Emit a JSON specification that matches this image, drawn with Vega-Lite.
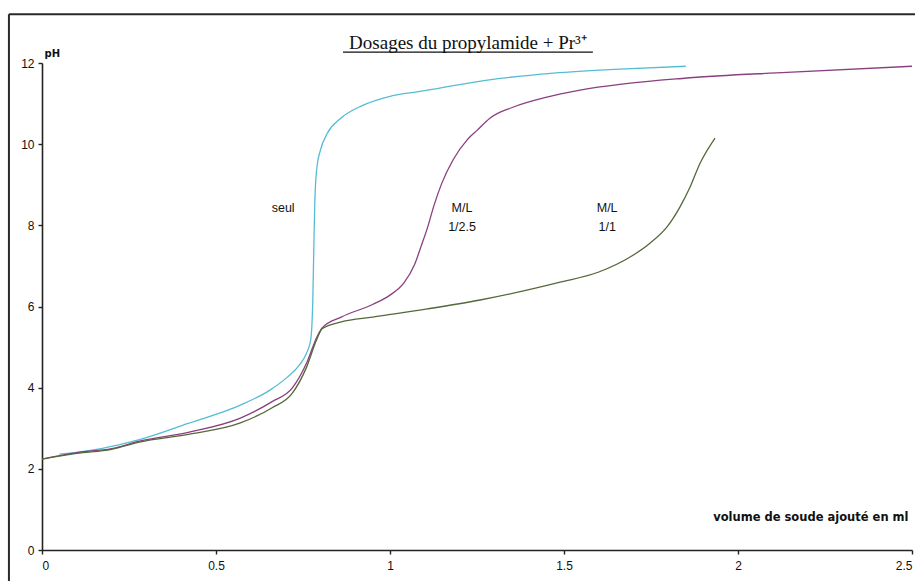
{
  "$schema": "https://vega.github.io/schema/vega-lite/v6.json",
  "width": 870,
  "height": 487,
  "autosize": "none",
  "padding": {"left": 42, "top": 63, "right": 3, "bottom": 31},
  "background": "white",
  "config": {"view": {"stroke": null}, "font": "Liberation Sans"},
  "datasets": {
    "curves": [
      {"serie": "seul", "v": 0.05, "ph": 2.36},
      {"serie": "seul", "v": 0.17, "ph": 2.5},
      {"serie": "seul", "v": 0.28, "ph": 2.72},
      {"serie": "seul", "v": 0.42, "ph": 3.12},
      {"serie": "seul", "v": 0.57, "ph": 3.57},
      {"serie": "seul", "v": 0.655, "ph": 3.94},
      {"serie": "seul", "v": 0.705, "ph": 4.26},
      {"serie": "seul", "v": 0.74, "ph": 4.56},
      {"serie": "seul", "v": 0.76, "ph": 4.85},
      {"serie": "seul", "v": 0.772, "ph": 5.17},
      {"serie": "seul", "v": 0.778, "ph": 6.1},
      {"serie": "seul", "v": 0.781, "ph": 7.4},
      {"serie": "seul", "v": 0.784, "ph": 8.6},
      {"serie": "seul", "v": 0.79, "ph": 9.43},
      {"serie": "seul", "v": 0.8, "ph": 9.85},
      {"serie": "seul", "v": 0.82, "ph": 10.27},
      {"serie": "seul", "v": 0.856, "ph": 10.62},
      {"serie": "seul", "v": 0.92, "ph": 10.95},
      {"serie": "seul", "v": 1.0, "ph": 11.18},
      {"serie": "seul", "v": 1.086, "ph": 11.3},
      {"serie": "seul", "v": 1.28, "ph": 11.58},
      {"serie": "seul", "v": 1.47, "ph": 11.75},
      {"serie": "seul", "v": 1.66, "ph": 11.85},
      {"serie": "seul", "v": 1.85, "ph": 11.92},
      {"serie": "M/L 1/2.5", "v": 0, "ph": 2.24},
      {"serie": "M/L 1/2.5", "v": 0.1, "ph": 2.4},
      {"serie": "M/L 1/2.5", "v": 0.2, "ph": 2.5},
      {"serie": "M/L 1/2.5", "v": 0.28, "ph": 2.68},
      {"serie": "M/L 1/2.5", "v": 0.42, "ph": 2.9},
      {"serie": "M/L 1/2.5", "v": 0.57, "ph": 3.25},
      {"serie": "M/L 1/2.5", "v": 0.66, "ph": 3.65},
      {"serie": "M/L 1/2.5", "v": 0.72, "ph": 4.0},
      {"serie": "M/L 1/2.5", "v": 0.76, "ph": 4.6},
      {"serie": "M/L 1/2.5", "v": 0.79, "ph": 5.25},
      {"serie": "M/L 1/2.5", "v": 0.805, "ph": 5.47},
      {"serie": "M/L 1/2.5", "v": 0.86, "ph": 5.74},
      {"serie": "M/L 1/2.5", "v": 0.95, "ph": 6.05},
      {"serie": "M/L 1/2.5", "v": 1.0, "ph": 6.28},
      {"serie": "M/L 1/2.5", "v": 1.04, "ph": 6.58},
      {"serie": "M/L 1/2.5", "v": 1.07, "ph": 7.02},
      {"serie": "M/L 1/2.5", "v": 1.09, "ph": 7.5},
      {"serie": "M/L 1/2.5", "v": 1.108, "ph": 7.95},
      {"serie": "M/L 1/2.5", "v": 1.126, "ph": 8.48},
      {"serie": "M/L 1/2.5", "v": 1.149, "ph": 9.04},
      {"serie": "M/L 1/2.5", "v": 1.181, "ph": 9.61},
      {"serie": "M/L 1/2.5", "v": 1.221, "ph": 10.1},
      {"serie": "M/L 1/2.5", "v": 1.25, "ph": 10.34},
      {"serie": "M/L 1/2.5", "v": 1.287, "ph": 10.64},
      {"serie": "M/L 1/2.5", "v": 1.353, "ph": 10.91},
      {"serie": "M/L 1/2.5", "v": 1.451, "ph": 11.16},
      {"serie": "M/L 1/2.5", "v": 1.546, "ph": 11.33},
      {"serie": "M/L 1/2.5", "v": 1.853, "ph": 11.63},
      {"serie": "M/L 1/2.5", "v": 2.141, "ph": 11.77},
      {"serie": "M/L 1/2.5", "v": 2.5, "ph": 11.92},
      {"serie": "M/L 1/1", "v": 0, "ph": 2.24},
      {"serie": "M/L 1/1", "v": 0.1, "ph": 2.38},
      {"serie": "M/L 1/1", "v": 0.2, "ph": 2.48},
      {"serie": "M/L 1/1", "v": 0.28, "ph": 2.66},
      {"serie": "M/L 1/1", "v": 0.42, "ph": 2.85},
      {"serie": "M/L 1/1", "v": 0.57, "ph": 3.13},
      {"serie": "M/L 1/1", "v": 0.66, "ph": 3.5},
      {"serie": "M/L 1/1", "v": 0.72, "ph": 3.87},
      {"serie": "M/L 1/1", "v": 0.76, "ph": 4.5},
      {"serie": "M/L 1/1", "v": 0.79, "ph": 5.2},
      {"serie": "M/L 1/1", "v": 0.805, "ph": 5.45},
      {"serie": "M/L 1/1", "v": 0.86, "ph": 5.62},
      {"serie": "M/L 1/1", "v": 0.95, "ph": 5.74},
      {"serie": "M/L 1/1", "v": 1.107, "ph": 5.94},
      {"serie": "M/L 1/1", "v": 1.259, "ph": 6.16},
      {"serie": "M/L 1/1", "v": 1.489, "ph": 6.6},
      {"serie": "M/L 1/1", "v": 1.6, "ph": 6.85},
      {"serie": "M/L 1/1", "v": 1.69, "ph": 7.22},
      {"serie": "M/L 1/1", "v": 1.747, "ph": 7.56},
      {"serie": "M/L 1/1", "v": 1.796, "ph": 7.96},
      {"serie": "M/L 1/1", "v": 1.833, "ph": 8.45},
      {"serie": "M/L 1/1", "v": 1.862, "ph": 8.94},
      {"serie": "M/L 1/1", "v": 1.891, "ph": 9.53},
      {"serie": "M/L 1/1", "v": 1.934, "ph": 10.15}
    ],
    "labels": [
      {"v": 0.693, "ph": 8.42, "txt": "seul"},
      {"v": 1.207, "ph": 8.42, "txt": "M/L"},
      {"v": 1.207, "ph": 7.96, "txt": "1/2.5"},
      {"v": 1.624, "ph": 8.42, "txt": "M/L"},
      {"v": 1.624, "ph": 7.96, "txt": "1/1"}
    ],
    "frame": [
      {"x1": -0.095, "x2": -0.095, "y1": 13.2, "y2": -0.8},
      {"x1": -0.095, "x2": 2.52, "y1": 13.2, "y2": 13.2}
    ]
  },
  "layer": [
    {
      "data": {"name": "frame"},
      "mark": {"type": "rule", "stroke": "#2a2a2a", "strokeWidth": 2, "clip": false},
      "encoding": {
        "x": {"field": "x1", "type": "quantitative"},
        "x2": {"field": "x2"},
        "y": {"field": "y1", "type": "quantitative"},
        "y2": {"field": "y2"}
      }
    },
    {
      "data": {"name": "curves"},
      "mark": {"type": "line", "strokeWidth": 1.3, "interpolate": "monotone"},
      "encoding": {
        "x": {
          "field": "v", "type": "quantitative",
          "scale": {"domain": [0, 2.5], "nice": false, "zero": true},
          "axis": {
            "values": [0, 0.5, 1, 1.5, 2, 2.5],
            "format": "~g",
            "grid": false,
            "domainColor": "#222222",
            "domainWidth": 1.6,
            "tickColor": "#222222",
            "tickSize": 4,
            "tickWidth": 1.4,
            "labelColor": "#111111",
            "labelFontSize": 12,
            "labelPadding": 6,
            "labelFont": "Liberation Sans",
            "title": "volume de soude ajouté en ml",
            "titleFont": "DejaVu Sans",
            "titleFontWeight": "bold",
            "titleFontSize": 11.5,
            "titleColor": "#111111",
            "titleAnchor": null,
            "titleAlign": "right",
            "titleBaseline": "middle",
            "titleX": 866,
            "titleY": -33
          }
        },
        "y": {
          "field": "ph", "type": "quantitative",
          "scale": {"domain": [0, 12], "nice": false},
          "axis": {
            "values": [0, 2, 4, 6, 8, 10, 12],
            "grid": false,
            "domainColor": "#222222",
            "domainWidth": 1.6,
            "tickColor": "#222222",
            "tickSize": 4,
            "tickWidth": 1.4,
            "labelColor": "#111111",
            "labelFontSize": 12,
            "labelPadding": 4,
            "labelFont": "Liberation Sans",
            "title": "pH",
            "titleFont": "DejaVu Sans",
            "titleFontWeight": "bold",
            "titleFontSize": 10,
            "titleColor": "#111111",
            "titleAngle": 0,
            "titleAnchor": null,
            "titleAlign": "left",
            "titleBaseline": "middle",
            "titleX": 2,
            "titleY": -10
          }
        },
        "color": {
          "field": "serie", "type": "nominal",
          "scale": {"domain": ["seul", "M/L 1/2.5", "M/L 1/1"], "range": ["#55bcd4", "#8a3f7e", "#55683a"]},
          "legend": null
        },
        "detail": {"field": "serie"}
      }
    },
    {
      "data": {"name": "labels"},
      "mark": {"type": "text", "fontSize": 12.5, "font": "Liberation Sans", "color": "#111111", "align": "center", "baseline": "middle"},
      "encoding": {
        "x": {"field": "v", "type": "quantitative"},
        "y": {"field": "ph", "type": "quantitative"},
        "text": {"field": "txt"}
      }
    },
    {
      "data": {"values": [{"v": 1.224, "ph": 12.34, "txt": "Dosages du propylamide + Pr³⁺"}]},
      "mark": {"type": "text", "fontSize": 19, "font": "Liberation Serif", "color": "#111111", "align": "center", "baseline": "alphabetic", "clip": false},
      "encoding": {
        "x": {"field": "v", "type": "quantitative"},
        "y": {"field": "ph", "type": "quantitative"},
        "text": {"field": "txt"}
      }
    },
    {
      "data": {"values": [{"underline": 1}]},
      "mark": {"type": "rule", "color": "#111111", "strokeWidth": 1.2, "clip": false},
      "encoding": {
        "x": {"datum": 0.865, "type": "quantitative"},
        "x2": {"datum": 1.583},
        "y": {"datum": 12.27, "type": "quantitative"}
      }
    }
  ]
}
